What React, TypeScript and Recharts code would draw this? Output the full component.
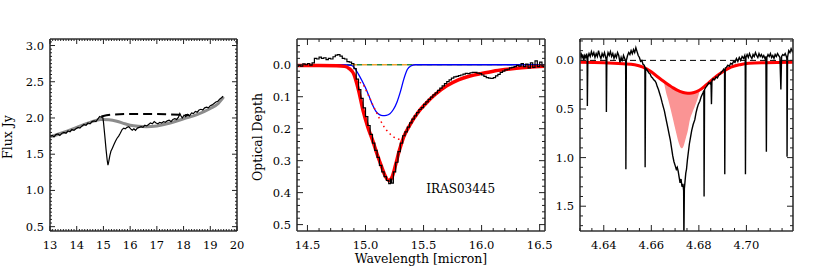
import React from 'react';
import { ComposedChart, Line, Area, XAxis, YAxis, ReferenceDot } from 'recharts';

type P = [number, number];

// ---------------- Panel 1 : Flux (Jy) vs wavelength ----------------
const p1Spectrum: P[] = [
  [13.0, 1.75], [13.08, 1.76], [13.15, 1.74], [13.22, 1.77], [13.3, 1.78], [13.37, 1.76], [13.45, 1.79],
  [13.52, 1.8], [13.6, 1.79], [13.67, 1.82], [13.75, 1.81], [13.82, 1.84], [13.9, 1.83], [13.97, 1.85],
  [14.05, 1.87], [14.12, 1.86], [14.2, 1.89], [14.27, 1.91], [14.35, 1.9], [14.42, 1.93], [14.5, 1.92],
  [14.57, 1.95], [14.65, 1.96], [14.72, 1.95], [14.8, 1.99], [14.86, 2.02], [14.92, 2.01], [14.97, 2.02],
  [15.0, 1.95], [15.05, 1.76], [15.1, 1.56], [15.14, 1.42], [15.17, 1.35], [15.2, 1.4], [15.24, 1.48],
  [15.28, 1.54], [15.33, 1.58], [15.39, 1.63], [15.45, 1.68], [15.51, 1.72], [15.57, 1.75], [15.63, 1.79],
  [15.7, 1.84], [15.76, 1.86], [15.82, 1.85], [15.88, 1.87], [15.95, 1.88], [16.02, 1.85], [16.08, 1.83],
  [16.14, 1.85], [16.2, 1.83], [16.27, 1.86], [16.34, 1.87], [16.41, 1.88], [16.48, 1.87], [16.55, 1.9],
  [16.62, 1.89], [16.69, 1.91], [16.76, 1.93], [16.83, 1.92], [16.9, 1.95], [16.97, 1.93], [17.04, 1.92],
  [17.11, 1.94], [17.18, 1.93], [17.25, 1.95], [17.32, 1.94], [17.39, 1.96], [17.46, 1.97], [17.53, 1.95],
  [17.6, 1.98], [17.67, 1.99], [17.74, 1.98], [17.81, 2.01], [17.86, 2.06], [17.9, 2.03], [17.95, 2.0],
  [18.02, 2.04], [18.08, 2.02], [18.15, 2.05], [18.22, 2.03], [18.3, 2.07], [18.37, 2.06], [18.44, 2.09],
  [18.51, 2.08], [18.58, 2.11], [18.65, 2.12], [18.72, 2.11], [18.79, 2.14], [18.86, 2.15], [18.93, 2.14],
  [19.0, 2.17], [19.07, 2.18], [19.14, 2.2], [19.21, 2.22], [19.28, 2.23], [19.35, 2.26], [19.42, 2.28],
  [19.48, 2.3],
];
const p1Continuum: P[] = [
  [13.0, 1.74], [13.5, 1.8], [14.0, 1.87], [14.5, 1.94], [14.9, 1.98], [15.2, 1.975], [15.5, 1.955],
  [15.8, 1.92], [16.0, 1.9], [16.3, 1.885], [16.6, 1.88], [17.0, 1.89], [17.5, 1.93], [18.0, 1.99],
  [18.5, 2.045], [19.0, 2.13], [19.3, 2.2], [19.5, 2.29],
];
const p1Local: P[] = [
  [14.92, 2.02], [15.3, 2.045], [16.0, 2.055], [16.8, 2.055], [17.5, 2.05], [18.2, 2.04],
];
const p1XMajor = [13, 14, 15, 16, 17, 18, 19, 20];
const p1YMajor = [0.5, 1.0, 1.5, 2.0, 2.5, 3.0];

// ---------------- Panel 2 : optical depth 15 micron ----------------
const p2Tau: P[] = [
  [14.41, 0.005], [14.43, 0.002], [14.45, 0.004], [14.47, -0.003], [14.49, 0.0], [14.51, -0.004], [14.53, 0.001],
  [14.55, -0.006], [14.57, -0.02], [14.59, -0.018], [14.61, -0.024], [14.63, -0.02], [14.65, -0.022], [14.67, -0.016],
  [14.69, -0.02], [14.71, -0.018], [14.73, -0.025], [14.75, -0.03], [14.77, -0.032], [14.79, -0.027], [14.81, -0.02],
  [14.83, -0.018], [14.85, -0.01], [14.87, -0.008], [14.89, -0.004], [14.91, 0.012], [14.93, 0.045], [14.95, 0.078],
  [14.97, 0.105], [14.99, 0.135], [15.01, 0.162], [15.03, 0.19], [15.05, 0.218], [15.07, 0.245], [15.09, 0.268],
  [15.11, 0.29], [15.13, 0.315], [15.15, 0.335], [15.17, 0.35], [15.19, 0.362], [15.21, 0.372], [15.22, 0.358],
  [15.23, 0.37], [15.25, 0.335], [15.27, 0.305], [15.29, 0.272], [15.31, 0.245], [15.33, 0.222], [15.35, 0.21],
  [15.37, 0.195], [15.39, 0.182], [15.41, 0.17], [15.43, 0.16], [15.45, 0.15], [15.47, 0.14], [15.49, 0.134],
  [15.51, 0.124], [15.53, 0.116], [15.55, 0.108], [15.57, 0.101], [15.59, 0.094], [15.61, 0.088], [15.63, 0.08],
  [15.65, 0.073], [15.67, 0.066], [15.69, 0.059], [15.71, 0.053], [15.73, 0.047], [15.75, 0.042], [15.77, 0.038],
  [15.79, 0.036], [15.81, 0.034], [15.83, 0.032], [15.85, 0.029], [15.87, 0.027], [15.89, 0.028], [15.91, 0.025],
  [15.93, 0.024], [15.95, 0.024], [15.97, 0.026], [15.99, 0.028], [16.01, 0.032], [16.03, 0.036], [16.05, 0.04],
  [16.07, 0.042], [16.09, 0.043], [16.11, 0.04], [16.13, 0.035], [16.15, 0.03], [16.17, 0.024], [16.19, 0.02],
  [16.21, 0.016], [16.23, 0.014], [16.25, 0.01], [16.27, 0.008], [16.29, 0.006], [16.31, 0.002], [16.33, 0.004],
  [16.35, -0.004], [16.37, 0.006], [16.39, -0.002], [16.41, 0.01], [16.43, -0.006], [16.45, 0.008], [16.47, -0.012],
  [16.49, 0.006], [16.51, -0.008], [16.53, 0.004], [16.54, 0.006],
];
const p2Fit: P[] = [
  [14.41, 0.002], [14.6, 0.002], [14.75, 0.003], [14.82, 0.005], [14.86, 0.012], [14.9, 0.03], [14.94, 0.08],
  [14.98, 0.145], [15.02, 0.195], [15.06, 0.235], [15.1, 0.28], [15.14, 0.32], [15.17, 0.348], [15.2, 0.362],
  [15.23, 0.35], [15.26, 0.312], [15.29, 0.27], [15.33, 0.225], [15.38, 0.19], [15.45, 0.15], [15.52, 0.121],
  [15.6, 0.093], [15.7, 0.066], [15.8, 0.047], [15.9, 0.035], [16.0, 0.027], [16.1, 0.02], [16.2, 0.015],
  [16.3, 0.011], [16.4, 0.008], [16.54, 0.005],
];
const p2Broad: P[] = [
  [14.95, 0.055], [14.99, 0.068], [15.01, 0.084], [15.04, 0.107], [15.07, 0.131], [15.1, 0.153], [15.12, 0.168],
  [15.15, 0.188], [15.18, 0.204], [15.21, 0.216], [15.24, 0.225], [15.27, 0.231], [15.3, 0.233], [15.33, 0.228],
  [15.35, 0.222],
];
const p2Narrow: P[] = [
  [14.41, 0], [14.8, 0], [14.88, 0.002], [14.91, 0.012], [14.94, 0.03], [14.97, 0.05], [15.0, 0.072],
  [15.03, 0.098], [15.06, 0.125], [15.09, 0.146], [15.12, 0.156], [15.15, 0.159], [15.18, 0.158], [15.21, 0.153],
  [15.24, 0.14], [15.27, 0.118], [15.3, 0.085], [15.33, 0.045], [15.36, 0.015], [15.39, 0.004], [15.43, 0],
  [16.54, 0],
];
const p2Zero: P[] = [[14.41, 0], [16.54, 0]];
const p2XMajor = [14.5, 15.0, 15.5, 16.0, 16.5];
const p2YMajor = [0.0, 0.1, 0.2, 0.3, 0.4, 0.5];
const p2SourceName = 'IRAS03445';

// ---------------- Panel 3 : optical depth 4.67 micron ----------------
const p3Tau: P[] = [
  [4.63, -0.02], [4.6304, -0.08], [4.6308, -0.03], [4.6312, -0.06], [4.6316, 0.0], [4.632, -0.05], [4.6324, -0.03],
  [4.6328, -0.07], [4.633, -0.02], [4.6331, 0.47], [4.6333, -0.03], [4.6338, -0.07], [4.6343, -0.04], [4.6348, -0.09],
  [4.6353, -0.05], [4.6358, -0.08], [4.6363, -0.03], [4.6368, -0.07], [4.6373, -0.04], [4.6378, -0.1], [4.6383, -0.05],
  [4.6388, -0.02], [4.6393, -0.07], [4.6398, -0.04], [4.6403, -0.08], [4.6408, -0.03], [4.641, -0.01], [4.6411, 0.53],
  [4.6413, -0.02], [4.6418, -0.08], [4.6423, -0.05], [4.6428, -0.09], [4.6433, -0.04], [4.6438, -0.07], [4.6443, -0.02],
  [4.6448, -0.06], [4.6453, -0.03], [4.6458, -0.08], [4.6463, -0.05], [4.6468, 0.02], [4.6473, -0.03], [4.6478, 0.01],
  [4.6483, -0.05], [4.6488, -0.02], [4.6492, 0.01], [4.6493, 1.12], [4.6495, 0.0], [4.65, -0.05], [4.6505, -0.08],
  [4.651, -0.06], [4.6515, -0.1], [4.652, -0.07], [4.6525, -0.11], [4.653, -0.08], [4.6535, -0.13], [4.654, -0.09],
  [4.6545, -0.05], [4.655, -0.03], [4.6555, 0.01], [4.656, 0.0], [4.6565, 0.04], [4.657, 0.05], [4.6573, 0.07],
  [4.6574, 1.1], [4.6576, 0.08], [4.658, 0.09], [4.6585, 0.11], [4.659, 0.13], [4.6595, 0.14], [4.66, 0.17],
  [4.6605, 0.18], [4.661, 0.2], [4.6615, 0.21], [4.662, 0.23], [4.6625, 0.27], [4.663, 0.3], [4.6635, 0.34],
  [4.664, 0.38], [4.6645, 0.43], [4.665, 0.475], [4.6655, 0.52], [4.666, 0.58], [4.6665, 0.64], [4.667, 0.7],
  [4.6675, 0.76], [4.668, 0.82], [4.6685, 0.9], [4.669, 0.98], [4.6695, 1.04], [4.67, 1.08], [4.6705, 1.12],
  [4.6709, 1.1], [4.6713, 1.14], [4.6717, 1.2], [4.6721, 1.26], [4.6725, 1.22], [4.6729, 1.3], [4.6733, 1.27],
  [4.6736, 1.34], [4.6737, 1.85], [4.6739, 1.32], [4.6742, 1.24], [4.6745, 1.16], [4.6748, 1.12], [4.6752, 1.02],
  [4.6756, 0.94], [4.676, 0.86], [4.6765, 0.79], [4.677, 0.72], [4.6776, 0.66], [4.6783, 0.61], [4.6788, 0.54],
  [4.6793, 0.49], [4.6798, 0.45], [4.6804, 0.42], [4.6809, 0.38], [4.6814, 0.35], [4.6818, 0.33], [4.6821, 0.31],
  [4.6822, 1.4], [4.6824, 0.3], [4.6828, 0.28], [4.6832, 0.27], [4.6837, 0.25], [4.6842, 0.23], [4.6847, 0.24],
  [4.6851, 0.22], [4.6853, 0.45], [4.6855, 0.21], [4.686, 0.19], [4.6866, 0.2], [4.6872, 0.17], [4.6878, 0.18],
  [4.6884, 0.15], [4.689, 0.14], [4.6895, 0.12], [4.69, 0.11], [4.6904, 0.09], [4.6908, 0.1], [4.6909, 1.17],
  [4.6911, 0.08], [4.6916, 0.07], [4.6922, 0.05], [4.6928, 0.06], [4.6934, 0.03], [4.694, 0.04], [4.6946, 0.01],
  [4.6952, 0.02], [4.6958, -0.02], [4.6964, 0.01], [4.697, -0.03], [4.6976, 0.0], [4.6982, -0.04], [4.6988, -0.02],
  [4.6993, -0.05], [4.6995, -0.01], [4.6996, 1.17], [4.6998, -0.03], [4.7003, -0.06], [4.7008, -0.03], [4.7013, -0.07],
  [4.7018, -0.04], [4.7023, -0.02], [4.7028, -0.06], [4.7033, -0.04], [4.7038, -0.08], [4.7043, -0.05], [4.7048, -0.03],
  [4.7053, -0.07], [4.7058, -0.04], [4.7063, -0.06], [4.7068, -0.03], [4.7073, -0.05], [4.7078, -0.02], [4.7082, -0.04],
  [4.7084, 0.94], [4.7086, -0.03], [4.7091, -0.06], [4.7096, -0.04], [4.7101, -0.07], [4.7106, -0.03], [4.7111, -0.05],
  [4.7116, -0.02], [4.7121, -0.06], [4.7126, -0.04], [4.7131, -0.07], [4.7136, -0.05], [4.7141, -0.03], [4.7145, 0.3],
  [4.7148, -0.04], [4.7153, -0.06], [4.7158, -0.05], [4.7163, -0.07], [4.7168, -0.04], [4.717, -0.02], [4.7171, 0.99],
  [4.7173, -0.03], [4.7178, -0.1], [4.7183, -0.08], [4.7188, -0.12], [4.7193, -0.09], [4.7196, -0.11],
];
const p3Fit: P[] = [
  [4.63, 0.02], [4.64, 0.025], [4.648, 0.035], [4.653, 0.045], [4.6565, 0.07], [4.6595, 0.11], [4.6622, 0.16],
  [4.665, 0.212], [4.6675, 0.255], [4.6692, 0.283], [4.672, 0.318], [4.6745, 0.335], [4.6762, 0.337], [4.678, 0.33],
  [4.68, 0.31], [4.6832, 0.25], [4.686, 0.19], [4.6902, 0.115], [4.6935, 0.07], [4.6973, 0.044], [4.701, 0.03],
  [4.708, 0.024], [4.7196, 0.02],
];
const p3FillX = [4.6652, 4.6662, 4.6671, 4.6682, 4.6692, 4.6703, 4.6713, 4.6722, 4.6728, 4.6735, 4.6745, 4.6755, 4.6762, 4.6772, 4.6783, 4.6794, 4.6804];
const p3FillTop = [0.2, 0.225, 0.245, 0.265, 0.285, 0.3, 0.31, 0.32, 0.325, 0.33, 0.335, 0.337, 0.337, 0.335, 0.328, 0.318, 0.305];
const p3FillBottom = [0.21, 0.33, 0.406, 0.51, 0.613, 0.73, 0.83, 0.89, 0.905, 0.885, 0.8, 0.705, 0.613, 0.54, 0.475, 0.4, 0.31];
const p3Zero: P[] = [[4.63, 0], [4.7196, 0]];
const p3XMajor = [4.64, 4.66, 4.68, 4.7];
const p3YMajor = [0.0, 0.5, 1.0, 1.5];

// ---------------- helpers ----------------
const rows = (pts: P[]) => pts.map(([x, y]) => ({ x, y }));
const range = (a: number, b: number, step: number) => {
  const out: number[] = [];
  const n = Math.round((b - a) / step);
  for (let i = 0; i <= n; i++) out.push(Math.round((a + i * step) * 1e6) / 1e6);
  return out;
};
const mergeTicks = (major: number[], minor: number[]) => {
  const all = [...major, ...minor.filter((m) => !major.some((v) => Math.abs(v - m) < 1e-7))];
  return all.sort((p, q) => p - q);
};

const FONT = "'DejaVu Serif', serif";
const FRAME = { stroke: '#333', strokeWidth: 1.6 };

type Side = 'bottom' | 'top' | 'left' | 'right';
function makeTick(side: Side, majors: number[], fmt: ((v: number) => string) | null, majorLen = 6, minorLen = 3) {
  return (props: any) => {
    const { x, y, payload } = props;
    const v = payload.value as number;
    const major = majors.some((m) => Math.abs(m - v) < 1e-7);
    const len = major ? majorLen : minorLen;
    let line: any = null;
    let label: any = null;
    const tstyle = { fontFamily: FONT, fontSize: 11.5, fill: '#000' };
    if (side === 'bottom') {
      line = <line x1={x} y1={y} x2={x} y2={y - len} stroke="#222" strokeWidth={1} />;
      if (major && fmt) label = <text x={x} y={y + 18} textAnchor="middle" style={tstyle}>{fmt(v)}</text>;
    } else if (side === 'top') {
      line = <line x1={x} y1={y} x2={x} y2={y + len} stroke="#222" strokeWidth={1} />;
    } else if (side === 'left') {
      line = <line x1={x} y1={y} x2={x + len} y2={y} stroke="#222" strokeWidth={1} />;
      if (major && fmt) label = <text x={x - 6} y={y + 4} textAnchor="end" style={tstyle}>{fmt(v)}</text>;
    } else {
      line = <line x1={x} y1={y} x2={x - len} y2={y} stroke="#222" strokeWidth={1} />;
    }
    return (
      <g>
        {line}
        {label}
      </g>
    );
  };
}

const yTitle = (text: string, dx: number) => (props: any) => {
  const vb = props.viewBox;
  const cx = vb.x + dx;
  const cy = vb.y + vb.height / 2 + 2;
  return (
    <text x={cx} y={cy} transform={`rotate(-90, ${cx}, ${cy})`} textAnchor="middle" dominantBaseline="central"
      style={{ fontFamily: FONT, fontSize: 12.5, fill: '#000' }}>{text}</text>
  );
};
const xTitle = (text: string, dy: number) => (props: any) => {
  const vb = props.viewBox;
  return (
    <text x={vb.x + vb.width / 2} y={vb.y + dy} textAnchor="middle"
      style={{ fontFamily: FONT, fontSize: 12.5, fill: '#000' }}>{text}</text>
  );
};

const axisCommon = {
  type: 'number' as const,
  allowDataOverflow: true,
  interval: 0 as const,
  tickSize: 0,
  tickMargin: 0,
  tickLine: false,
  axisLine: FRAME,
};

function axes(o: {
  xDomain: [number, number]; yDomain: [number, number]; reversed: boolean;
  xMajor: number[]; xMinor: number[]; yMajor: number[]; yMinor: number[];
  xFmt: (v: number) => string; yFmt: (v: number) => string;
  yLabel?: any; xLabel?: any; majorLen?: number; minorLen?: number;
}) {
  const xt = mergeTicks(o.xMajor, o.xMinor);
  const yt = mergeTicks(o.yMajor, o.yMinor);
  const ml = o.majorLen ?? 6;
  const mn = o.minorLen ?? 3;
  return [
    <XAxis key="xb" xAxisId="b" dataKey="x" orientation="bottom" height={30} domain={o.xDomain} ticks={xt}
      tick={makeTick('bottom', o.xMajor, o.xFmt, ml, mn)} label={o.xLabel} {...axisCommon} />,
    <XAxis key="xt" xAxisId="t" dataKey="x" orientation="top" height={1} domain={o.xDomain} ticks={xt}
      tick={makeTick('top', o.xMajor, null, ml, mn)} {...axisCommon} />,
    <YAxis key="yl" yAxisId="l" orientation="left" width={40} domain={o.yDomain} reversed={o.reversed} ticks={yt}
      tick={makeTick('left', o.yMajor, o.yFmt, ml, mn)} label={o.yLabel} {...axisCommon} />,
    <YAxis key="yr" yAxisId="r" orientation="right" width={1} domain={o.yDomain} reversed={o.reversed} ticks={yt}
      tick={makeTick('right', o.yMajor, null, ml, mn)} {...axisCommon} />,
  ];
}

const lineBase = { xAxisId: 'b', yAxisId: 'l', dataKey: 'y', dot: false, activeDot: false, isAnimationActive: false } as const;
const hiddenAnchor = { xAxisId: 't', yAxisId: 'r', dataKey: 'y', dot: false, activeDot: false, isAnimationActive: false, stroke: 'none' } as const;

export default function App() {
  const pinkRows = p3FillX.map((x, i) => ({ x, band: [p3FillTop[i], p3FillBottom[i]] }));
  return (
    <div style={{ position: 'absolute', left: 0, top: 0, width: 817, height: 272, background: '#fff', overflow: 'hidden' }}>
      <div style={{ position: 'absolute', left: 0, top: 0 }}>
        <ComposedChart width={260} height={272} margin={{ top: 38, right: 22, bottom: 11, left: 10 }}>
          {axes({
            xDomain: [13, 20], yDomain: [0.44, 3.09], reversed: false,
            xMajor: p1XMajor, xMinor: range(13, 20, 0.1), yMajor: p1YMajor, yMinor: range(0.45, 3.05, 0.05),
            xFmt: (v) => v.toFixed(0), yFmt: (v) => v.toFixed(1),
            yLabel: yTitle('Flux Jy', -3), majorLen: 5, minorLen: 2,
          })}
          <Line {...hiddenAnchor} data={rows(p1Continuum)} />
          <Line {...lineBase} data={rows(p1Continuum)} type="monotone" stroke="#8c8c8c" strokeWidth={3} />
          <Line {...lineBase} data={rows(p1Spectrum)} type="linear" stroke="#000" strokeWidth={1.2} />
          <Line {...lineBase} data={rows(p1Local)} type="monotone" stroke="#000" strokeWidth={2} strokeDasharray="9 5" />
        </ComposedChart>
      </div>
      <div style={{ position: 'absolute', left: 245, top: 0 }}>
        <ComposedChart width={317} height={272} margin={{ top: 38, right: 16, bottom: 11, left: 12 }}>
          {axes({
            xDomain: [14.41, 16.546], yDomain: [-0.0806, 0.52], reversed: true,
            xMajor: p2XMajor, xMinor: range(14.5, 16.5, 0.1), yMajor: p2YMajor, yMinor: range(-0.06, 0.5, 0.02),
            xFmt: (v) => v.toFixed(1), yFmt: (v) => v.toFixed(1),
            yLabel: yTitle('Optical Depth', 0.5), xLabel: xTitle('Wavelength [micron]', 32),
          })}
          <Line {...hiddenAnchor} data={rows(p2Zero)} />
          <Line {...lineBase} data={rows(p2Zero)} type="linear" stroke="#2e8b3a" strokeWidth={1.5} strokeDasharray="5 5" />
          <Line {...lineBase} data={rows(p2Zero)} type="linear" stroke="#f0a030" strokeWidth={1.5} strokeDasharray="5 5" strokeDashoffset={5} />
          <Line {...lineBase} data={rows(p2Narrow)} type="monotone" stroke="#0000ff" strokeWidth={1.3} />
          <Line {...lineBase} data={rows(p2Broad)} type="monotone" stroke="#ff0000" strokeWidth={1.5} strokeDasharray="1.5 3.5" />
          <Line {...lineBase} data={rows(p2Fit)} type="monotone" stroke="#ff0000" strokeWidth={3.5} />
          <Line {...lineBase} data={rows(p2Tau)} type="step" stroke="#000" strokeWidth={1.2} />
          <ReferenceDot xAxisId="b" yAxisId="l" x={15.82} y={0.389} r={0} fill="none" stroke="none"
            label={{ value: p2SourceName, position: 'center', fontFamily: FONT, fontSize: 12, fill: '#000' }} />
        </ComposedChart>
      </div>
      <div style={{ position: 'absolute', left: 530, top: 0 }}>
        <ComposedChart width={287} height={272} data={pinkRows} margin={{ top: 38, right: 23, bottom: 11, left: 10 }}>
          {axes({
            xDomain: [4.63, 4.7196], yDomain: [-0.22, 1.755], reversed: true,
            xMajor: p3XMajor, xMinor: range(4.63, 4.715, 0.005), yMajor: p3YMajor, yMinor: range(-0.2, 1.7, 0.1),
            xFmt: (v) => v.toFixed(2), yFmt: (v) => v.toFixed(1),
          })}
          <Line {...hiddenAnchor} data={rows(p3Zero)} />
          <Line {...lineBase} data={rows(p3Zero)} type="linear" stroke="#000" strokeWidth={1} strokeDasharray="6 4" />
          <Area xAxisId="b" yAxisId="l" dataKey="band" type="monotone" fill="#fa9494" fillOpacity={1} stroke="none"
            dot={false} activeDot={false} isAnimationActive={false} />
          <Line {...lineBase} data={rows(p3Fit)} type="monotone" stroke="#ff0000" strokeWidth={3} />
          <Line {...lineBase} data={rows(p3Tau)} type="linear" stroke="#000" strokeWidth={1.4} />
        </ComposedChart>
      </div>
    </div>
  );
}
